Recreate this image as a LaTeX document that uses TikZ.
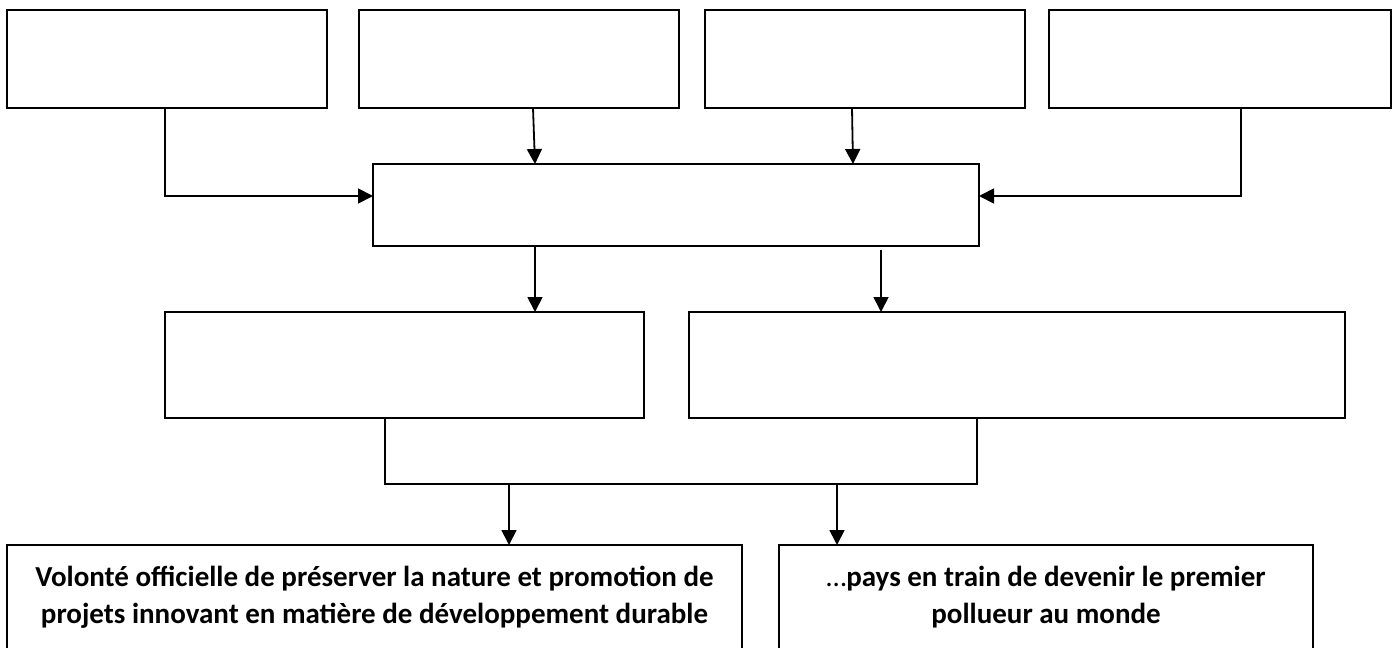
\documentclass[tikz,border=0pt]{standalone}
\usepackage{fontspec}
\setmainfont{Carlito}
\usetikzlibrary{arrows.meta,calc}
\begin{document}
\begin{tikzpicture}[x=1pt,y=-1pt,
  box/.style={draw=black,line width=1.8pt,fill=white,inner sep=0pt,outer sep=0pt,anchor=north west},
  conn/.style={line width=1.8pt},
  arr/.style={conn,-{Triangle[length=15pt,width=15pt]}},
  txt/.style={font=\bfseries\fontsize{29}{37}\selectfont,align=center}]
\useasboundingbox (0,0) rectangle (1398,648);
\clip (0,0) rectangle (1398,648);
% top row
\node[box,minimum width=320pt,minimum height=98pt] (b1) at (7,10) {};
\node[box,minimum width=320pt,minimum height=98pt] (b2) at (359,10) {};
\node[box,minimum width=320pt,minimum height=98pt] (b3) at (705,10) {};
\node[box,minimum width=342pt,minimum height=98pt] (b4) at (1049,10) {};
% middle
\node[box,minimum width=606pt,minimum height=82pt] (mid) at (373,164) {};
% third row
\node[box,minimum width=479pt,minimum height=106pt] (rl) at (165,312) {};
\node[box,minimum width=656pt,minimum height=106pt] (rr) at (689,312) {};
% bottom row
\node[box,txt,minimum width=735pt,minimum height=104pt] (bl) at (7,545)
  {Volonté officielle de préserver la nature et promotion de\\projets innovant en matière de développement durable};
\node[box,txt,minimum width=534pt,minimum height=104pt] (br) at (779,545)
  {{\mdseries …}pays en train de devenir le premier\\pollueur au monde};
% connectors top -> middle
\coordinate (c1) at (165,196);
\draw[arr] ([xshift=158pt]b1.south west) -- (c1) -- (c1 -| mid.west);
\draw[arr] ([xshift=174pt]b2.south west) -- ([xshift=162pt]mid.north west);
\draw[arr] ([xshift=147pt]b3.south west) -- ([xshift=480pt]mid.north west);
\coordinate (c4) at (1241,196);
\draw[arr] ([xshift=192pt]b4.south west) -- (c4) -- (c4 -| mid.east);
% middle -> third row
\draw[arr] ([xshift=162pt]mid.south west) -- ([xshift=162pt]mid.south west |- rl.north);
\coordinate (m2) at (881,250);
\draw[arr] (m2) -- (m2 |- rr.north);
% third row -> bottom
\coordinate (jl) at (385,484);
\coordinate (jr) at (977,484);
\draw[conn] (rl.south -| jl) -- (jl) -- (jr) -- (rr.south -| jr);
\coordinate (al) at (509,484);
\coordinate (ar) at (837,484);
\draw[arr] (al) -- (al |- bl.north);
\draw[arr] (ar) -- (ar |- br.north);
\end{tikzpicture}
\end{document}
